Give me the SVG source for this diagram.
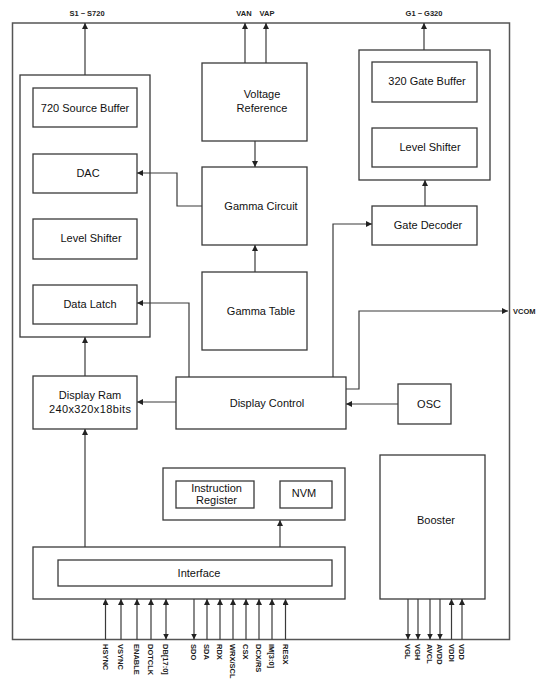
<svg xmlns="http://www.w3.org/2000/svg" width="540" height="685" viewBox="0 0 540 685">
<style>
.box{fill:none;stroke:#3a3a3a;stroke-width:1.3}
.frame{fill:none;stroke:#555;stroke-width:1.5}
.ln{fill:none;stroke:#3a3a3a;stroke-width:1.2}
.t{font-family:"Liberation Sans",Arial,sans-serif;font-size:11px;fill:#111;text-anchor:middle}
.s{font-family:"Liberation Sans",Arial,sans-serif;font-size:7.5px;font-weight:bold;fill:#222}
</style>
<defs>
<marker id="a" viewBox="0 0 6 6" refX="6" refY="3" markerWidth="6" markerHeight="6" markerUnits="userSpaceOnUse" orient="auto-start-reverse">
<path d="M0,0 L6,3 L0,6 z" fill="#222"/>
</marker>
</defs>
<rect width="540" height="685" fill="#fff"/>
<rect id="chip" class="frame" x="12.5" y="23" width="497" height="616.5"/>

<g id="source-driver">
<rect class="box" x="20" y="75" width="130" height="262"/>
<g id="source-buffer"><rect class="box" x="33" y="88" width="104" height="39"/><text class="t" x="85" y="112">720 Source Buffer</text></g>
<g id="dac"><rect class="box" x="33" y="154" width="104" height="39"/><text class="t" x="88" y="177">DAC</text></g>
<g id="source-level-shifter"><rect class="box" x="33" y="219" width="104" height="40"/><text class="t" x="91" y="242">Level Shifter</text></g>
<g id="data-latch"><rect class="box" x="33" y="285" width="104" height="39"/><text class="t" x="90" y="308">Data Latch</text></g>
</g>

<g id="voltage-reference"><rect class="box" x="202" y="63" width="105" height="78"/><text class="t" x="262" y="98">Voltage</text><text class="t" x="262" y="112">Reference</text></g>
<g id="gamma-circuit"><rect class="box" x="202" y="167" width="105" height="78"/><text class="t" x="261" y="210">Gamma Circuit</text></g>
<g id="gamma-table"><rect class="box" x="202" y="272" width="105" height="78"/><text class="t" x="261" y="315">Gamma Table</text></g>

<g id="gate-driver">
<rect class="box" x="359" y="50" width="131" height="130"/>
<g id="gate-buffer"><rect class="box" x="372" y="62" width="105" height="40"/><text class="t" x="427" y="85">320 Gate Buffer</text></g>
<g id="gate-level-shifter"><rect class="box" x="372" y="128" width="105" height="39"/><text class="t" x="430" y="151">Level Shifter</text></g>
</g>
<g id="gate-decoder"><rect class="box" x="372" y="206" width="105" height="39"/><text class="t" x="428" y="229">Gate Decoder</text></g>

<g id="display-ram"><rect class="box" x="33" y="376" width="104" height="53"/><text class="t" x="90" y="399">Display Ram</text><text class="t" x="90" y="413" textLength="82" lengthAdjust="spacing">240x320x18bits</text></g>
<g id="display-control"><rect class="box" x="176" y="377" width="170" height="52"/><text class="t" x="267" y="407">Display Control</text></g>
<g id="osc"><rect class="box" x="398" y="384" width="53" height="40"/><text class="t" x="429" y="408">OSC</text></g>

<g id="register-block">
<rect class="box" x="163" y="468" width="182" height="52"/>
<g id="instruction-register"><rect class="box" x="176" y="481" width="78" height="27"/><text class="t" x="216.5" y="492">Instruction</text><text class="t" x="216.5" y="504">Register</text></g>
<g id="nvm"><rect class="box" x="280" y="481" width="52" height="27"/><text class="t" x="304" y="497">NVM</text></g>
</g>

<g id="interface-block">
<rect class="box" x="33" y="547" width="312" height="52"/>
<g id="interface"><rect class="box" x="58" y="560" width="274" height="26"/><text class="t" x="199" y="577">Interface</text></g>
</g>
<g id="booster"><rect class="box" x="380" y="455" width="105" height="144"/><text class="t" x="436" y="524">Booster</text></g>

<g id="connectors">
<path class="ln" d="M85,75 V23" marker-end="url(#a)"/>
<path class="ln" d="M245,63 V23" marker-end="url(#a)"/>
<path class="ln" d="M266,63 V23" marker-end="url(#a)"/>
<path class="ln" d="M424,50 V23" marker-end="url(#a)"/>
<path class="ln" d="M255,141 V167" marker-end="url(#a)"/>
<path class="ln" d="M255,272 V245" marker-end="url(#a)"/>
<path class="ln" d="M202,206 H177 V173 H137" marker-end="url(#a)"/>
<path class="ln" d="M189,377 V303 H137" marker-end="url(#a)"/>
<path class="ln" d="M333,377 V224 H372" marker-end="url(#a)"/>
<path class="ln" d="M425,206 V180" marker-end="url(#a)"/>
<path class="ln" d="M346,389 H359 V311 H508" marker-end="url(#a)"/>
<path class="ln" d="M398,404 H346" marker-end="url(#a)"/>
<path class="ln" d="M176,402 H137" marker-end="url(#a)"/>
<path class="ln" d="M85,376 V337" marker-end="url(#a)"/>
<path class="ln" d="M85,547 V429" marker-end="url(#a)"/>
<path class="ln" d="M280,547 V520" marker-end="url(#a)"/>
<path class="ln" d="M105.5,639.5 V599" marker-end="url(#a)"/>
<path class="ln" d="M121,639.5 V599" marker-end="url(#a)"/>
<path class="ln" d="M137,639.5 V599" marker-end="url(#a)"/>
<path class="ln" d="M151,639.5 V599" marker-end="url(#a)"/>
<path class="ln" d="M166,639.5 V599" marker-start="url(#a)" marker-end="url(#a)"/>
<path class="ln" d="M194,599 V639.5" marker-end="url(#a)"/>
<path class="ln" d="M207,639.5 V599" marker-end="url(#a)"/>
<path class="ln" d="M220,639.5 V599" marker-end="url(#a)"/>
<path class="ln" d="M233,639.5 V599" marker-end="url(#a)"/>
<path class="ln" d="M246,639.5 V599" marker-end="url(#a)"/>
<path class="ln" d="M259,639.5 V599" marker-end="url(#a)"/>
<path class="ln" d="M272,639.5 V599" marker-end="url(#a)"/>
<path class="ln" d="M285.5,639.5 V599" marker-end="url(#a)"/>
<path class="ln" d="M408,599 V639.5" marker-end="url(#a)"/>
<path class="ln" d="M418,599 V639.5" marker-end="url(#a)"/>
<path class="ln" d="M430,599 V639.5" marker-end="url(#a)"/>
<path class="ln" d="M440,599 V639.5" marker-end="url(#a)"/>
<path class="ln" d="M451.5,639.5 V599" marker-end="url(#a)"/>
<path class="ln" d="M462,639.5 V599" marker-end="url(#a)"/>
</g>

<g id="labels">
<text class="s" x="87" y="16" text-anchor="middle">S1 ~ S720</text>
<text class="s" x="244" y="16" text-anchor="middle">VAN</text>
<text class="s" x="267" y="16" text-anchor="middle">VAP</text>
<text class="s" x="424" y="16" text-anchor="middle">G1 ~ G320</text>
<text class="s" x="513" y="314">VCOM</text>
<g transform="translate(0,644)">
<text class="s" transform="translate(105.5,0) rotate(90)" dy="0.35em">HSYNC</text>
<text class="s" transform="translate(121,0) rotate(90)" dy="0.35em">VSYNC</text>
<text class="s" transform="translate(137,0) rotate(90)" dy="0.35em">ENABLE</text>
<text class="s" transform="translate(151,0) rotate(90)" dy="0.35em">DOTCLK</text>
<text class="s" transform="translate(166,0) rotate(90)" dy="0.35em">DB[17:0]</text>
<text class="s" transform="translate(194,0) rotate(90)" dy="0.35em">SDO</text>
<text class="s" transform="translate(207,0) rotate(90)" dy="0.35em">SDA</text>
<text class="s" transform="translate(220,0) rotate(90)" dy="0.35em">RDX</text>
<text class="s" transform="translate(233,0) rotate(90)" dy="0.35em">WRX/SCL</text>
<text class="s" transform="translate(246,0) rotate(90)" dy="0.35em">CSX</text>
<text class="s" transform="translate(259,0) rotate(90)" dy="0.35em">DCX/RS</text>
<text class="s" transform="translate(272,0) rotate(90)" dy="0.35em">IM[3:0]</text>
<text class="s" transform="translate(285.5,0) rotate(90)" dy="0.35em">RESX</text>
<text class="s" transform="translate(408,0) rotate(90)" dy="0.35em">VGL</text>
<text class="s" transform="translate(418,0) rotate(90)" dy="0.35em">VGH</text>
<text class="s" transform="translate(430,0) rotate(90)" dy="0.35em">AVCL</text>
<text class="s" transform="translate(440,0) rotate(90)" dy="0.35em">AVDD</text>
<text class="s" transform="translate(451.5,0) rotate(90)" dy="0.35em">VDDI</text>
<text class="s" transform="translate(462,0) rotate(90)" dy="0.35em">VDD</text>
</g>
</g>
</svg>
